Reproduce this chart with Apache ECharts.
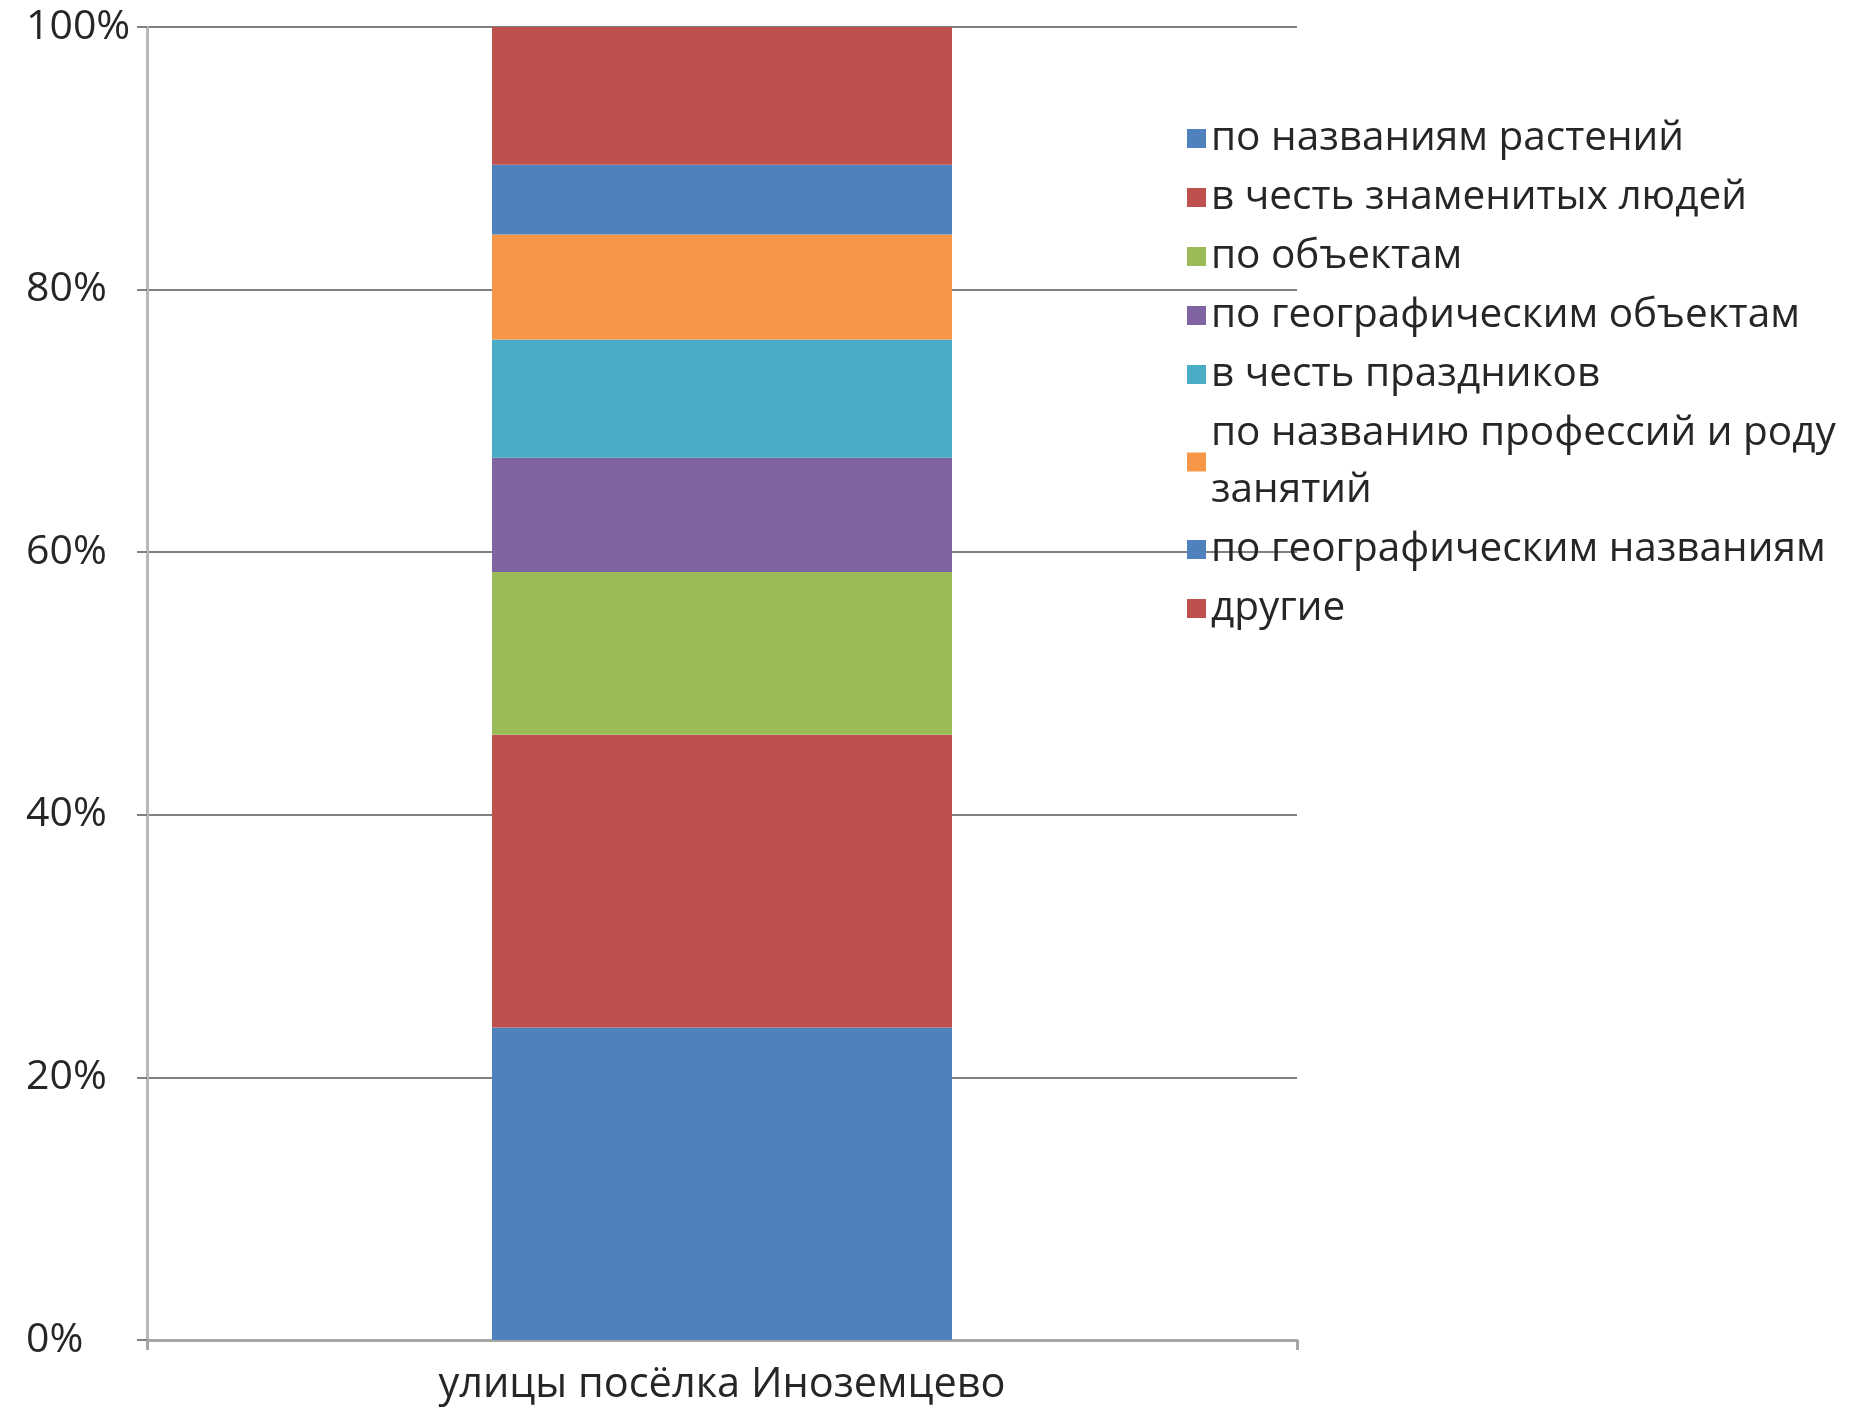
<!DOCTYPE html>
<html>
<head>
<meta charset="utf-8">
<script src="https://cdn.jsdelivr.net/npm/echarts@6/dist/echarts.min.js"></script>
<style>
html,body{margin:0;padding:0;background:#fff;}
#chart{width:1859px;height:1410px;}
</style>
</head>
<body>
<div id="chart"></div>
<script>
const categories = ['улицы посёлка Иноземцево'];
const seriesNames = [
  'по названиям растений',
  'в честь знаменитых людей',
  'по объектам',
  'по географическим объектам',
  'в честь праздников',
  'по названию профессий и роду\nзанятий',
  'по географическим названиям',
  'другие'
];
const seriesValues = [
  [23.8],
  [22.3],
  [12.4],
  [8.7],
  [9.0],
  [8.0],
  [5.3],
  [10.5]
];
const seriesColors = ['#4F81BD','#C0504D','#9BBB59','#8064A2','#4BACC6','#F79646','#4F81BD','#C0504D'];
const yTicks = { min: 0, max: 100, interval: 20 };

const chart = echarts.init(document.getElementById('chart'));
const FONT = '"Open Sans", sans-serif';
chart.setOption({
  animation: false,
  backgroundColor: '#ffffff',
  grid: { left: 147, right: 562, top: 27, bottom: 70, containLabel: false },
  legend: {
    orient: 'vertical',
    left: 1182,
    top: 105,
    itemWidth: 19,
    itemHeight: 19,
    itemGap: 2,
    icon: 'rect',
    data: seriesNames,
    textStyle: { fontFamily: FONT, fontSize: 40.5, color: '#262626', lineHeight: 57 }
  },
  xAxis: {
    type: 'category',
    data: categories,
    axisLine: { show: true, lineStyle: { color: '#a6a6a6', width: 3 } },
    axisTick: { show: true, length: 10, lineStyle: { color: '#a6a6a6', width: 3 } },
    axisLabel: { fontFamily: FONT, fontSize: 41.5, color: '#262626', margin: 24 },
    splitLine: { show: false }
  },
  yAxis: {
    type: 'value',
    min: yTicks.min,
    max: yTicks.max,
    interval: yTicks.interval,
    axisLine: { show: true, lineStyle: { color: '#b8b8b8', width: 3 } },
    axisTick: { show: true, length: 10, lineStyle: { color: '#808080', width: 2 } },
    axisLabel: { fontFamily: FONT, fontSize: 41, color: '#262626', margin: 121, align: 'left', padding: [12, 0, 0, 0], formatter: '{value}%' },
    splitLine: { show: true, lineStyle: { color: '#808080', width: 2 } }
  },
  series: seriesNames.map((name, i) => ({
    name: name,
    type: 'bar',
    stack: 'total',
    barWidth: '40%',
    data: seriesValues[i],
    itemStyle: { color: seriesColors[i] }
  }))
});
</script>
</body>
</html>
